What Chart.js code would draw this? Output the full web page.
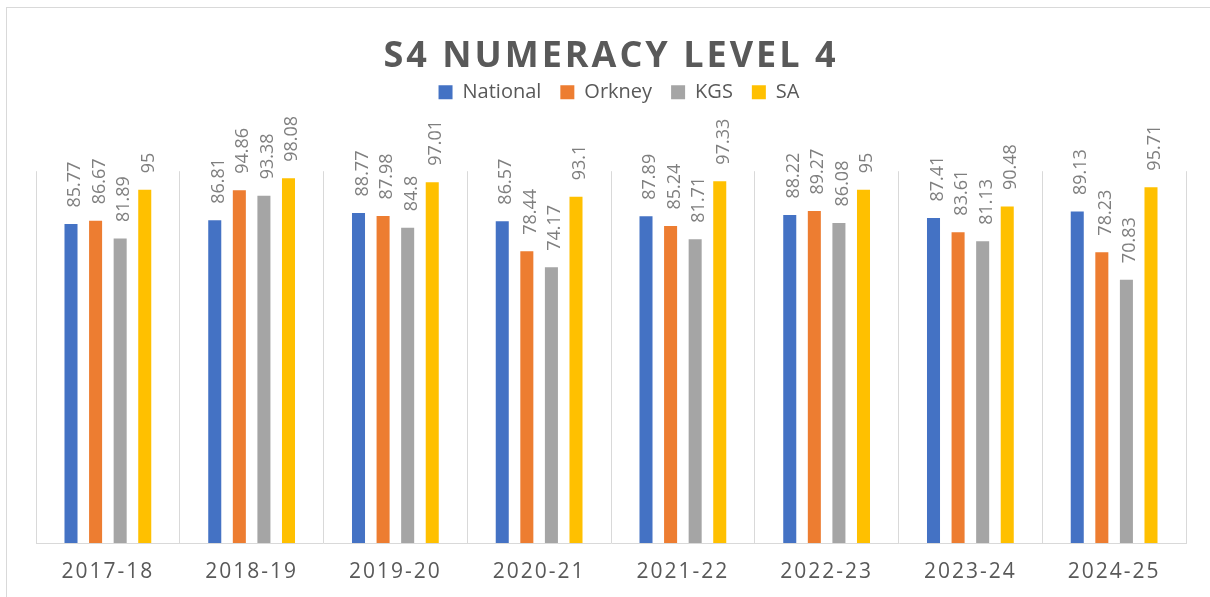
<!DOCTYPE html>
<html>
<head>
<meta charset="utf-8">
<title>S4 Numeracy Level 4</title>
<script src="https://cdn.jsdelivr.net/npm/chart.js@4/dist/chart.umd.min.js"></script>
<style>
	html, body { margin: 0; padding: 0; background: #ffffff; }
	#wrap { position: relative; width: 1210px; height: 597px; overflow: hidden; }
	#frame { position: absolute; left: 6px; top: 7px; right: -10px; bottom: -10px; border: 1px solid #d9d9d9; }
	#chart { position: absolute; left: 0; top: 0; }
</style>
</head>
<body>
<div id="wrap">
	<div id="frame"></div>
	<canvas id="chart" width="1210" height="597"></canvas>
</div>
<script>
// Années scolaires
const years = ['2017-18', '2018-19', '2019-20', '2020-21', '2021-22', '2022-23', '2023-24', '2024-25'];

// Pourcentages par groupe
const nationalValues = [85.77, 86.81, 88.77, 86.57, 87.89, 88.22, 87.41, 89.13];
const orkneyValues = [86.67, 94.86, 87.98, 78.44, 85.24, 89.27, 83.61, 78.23];
const kgsValues = [81.89, 93.38, 84.8, 74.17, 81.71, 86.08, 81.13, 70.83];
const saValues = [95, 98.08, 97.01, 93.1, 97.33, 95, 90.48, 95.71];

const seriesNames = ['National', 'Orkney', 'KGS', 'SA'];
const seriesColors = ['#4472c4', '#ed7d31', '#a5a5a5', '#ffc000'];

const fontFamily = "'Open Sans', sans-serif";

// Espacement des lettres pour le titre et les étiquettes de l'axe x
const spacedText = {
	id: 'spacedText',
	afterLayout(chart) {
		// légende un peu décalée vers la droite
		if (chart.legend) {
			chart.legend.left += 8;
			chart.legend.right += 8;
		}
	},
	beforeDraw(chart) {
		const ctx = chart.ctx;
		const title = chart.titleBlock;
		if (title && !title._spaced) {
			const draw = title.draw.bind(title);
			title.draw = (area) => {
				ctx.save();
				ctx.letterSpacing = '3px';
				draw(area);
				ctx.restore();
			};
			title._spaced = true;
		}
		const x = chart.scales.x;
		if (x && !x._spaced) {
			const drawLabels = x.drawLabels.bind(x);
			x.drawLabels = (area) => {
				ctx.save();
				ctx.letterSpacing = '2px';
				drawLabels(area);
				ctx.restore();
			};
			x._spaced = true;
		}
	}
};

// Valeurs écrites verticalement au-dessus de chaque barre
const barValues = {
	id: 'barValues',
	afterDatasetsDraw(chart) {
		const ctx = chart.ctx;
		ctx.save();
		ctx.font = '18px ' + fontFamily;
		ctx.fillStyle = '#7f7f7f';
		ctx.textAlign = 'left';
		ctx.textBaseline = 'alphabetic';
		chart.data.datasets.forEach((ds, i) => {
			chart.getDatasetMeta(i).data.forEach((bar, j) => {
				ctx.save();
				ctx.translate(bar.x + 9, bar.y - 16.5);
				ctx.rotate(-Math.PI / 2);
				ctx.fillText(String(ds.data[j]), 0, 0);
				ctx.restore();
			});
		});
		ctx.restore();
	}
};

const allValues = [nationalValues, orkneyValues, kgsValues, saValues];

new Chart(document.getElementById('chart'), {
	type: 'bar',
	data: {
		labels: years,
		datasets: allValues.map((values, i) => ({
			label: seriesNames[i],
			data: values,
			backgroundColor: seriesColors[i],
			borderWidth: 0,
			categoryPercentage: 0.684,
			barPercentage: 0.53
		}))
	},
	options: {
		responsive: false,
		animation: false,
		layout: {
			padding: { top: 0, left: 36, right: 24, bottom: 14 }
		},
		scales: {
			x: {
				grid: { color: '#d9d9d9', lineWidth: 1, drawTicks: false },
				border: { color: '#d9d9d9', width: 1 },
				ticks: {
					color: '#595959',
					font: { family: fontFamily, size: 21 },
					padding: 16
				},
				afterFit(scale) {
					scale.height = 40;
				}
			},
			y: {
				display: false,
				min: 0,
				max: 100
			}
		},
		plugins: {
			title: {
				display: true,
				text: 'S4 NUMERACY LEVEL 4',
				color: '#595959',
				font: { family: fontFamily, size: 36, weight: 'bold' },
				padding: { top: 35, bottom: -15 }
			},
			legend: {
				position: 'top',
				weight: 1800,
				labels: {
					color: '#595959',
					font: { family: fontFamily, size: 20 },
					boxWidth: 14,
					boxHeight: 14,
					padding: 19
				}
			},
			// espace vide entre la légende et le graphique
			subtitle: {
				display: true,
				text: '',
				font: { size: 1, lineHeight: 1 },
				padding: { top: 58, bottom: 0 }
			},
			tooltip: { enabled: false }
		}
	},
	plugins: [spacedText, barValues]
});
</script>
</body>
</html>
